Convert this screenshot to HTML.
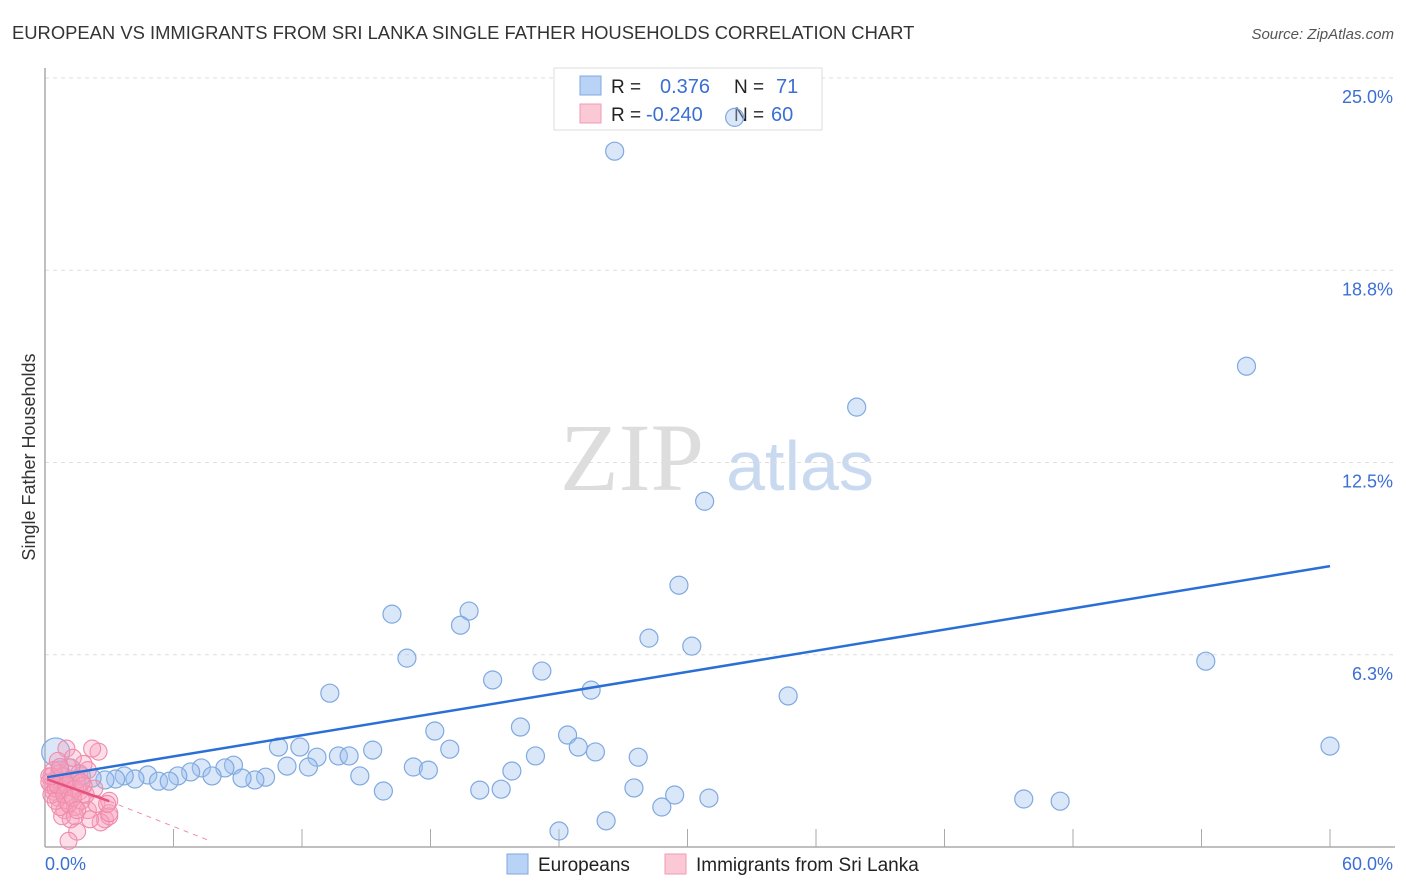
<!DOCTYPE html>
<html><head><meta charset="utf-8">
<style>
body{margin:0;background:#fff;font-family:"Liberation Sans",sans-serif;}
#wrap{position:relative;width:1406px;height:892px;overflow:hidden;}
</style></head>
<body>
<div id="wrap">
<svg id="svg" width="1406" height="892" xmlns="http://www.w3.org/2000/svg">
<text x="12" y="39" font-size="18.4" fill="#333">EUROPEAN VS IMMIGRANTS FROM SRI LANKA SINGLE FATHER HOUSEHOLDS CORRELATION CHART</text>
<text x="1394" y="39" font-size="15" fill="#555" font-style="italic" text-anchor="end">Source: ZipAtlas.com</text>
<text x="35" y="457" font-size="18" fill="#333" text-anchor="middle" transform="rotate(-90 35 457)">Single Father Households</text>
<text x="632" y="490" font-size="96" fill="#ddd" font-family="Liberation Serif,serif" text-anchor="middle">ZIP</text>
<text x="800" y="490" font-size="70" fill="#c9daf0" text-anchor="middle">atlas</text>
<g id="grid"></g>
<g>
<rect x="554" y="68" width="268" height="62" fill="#fff" stroke="#ddd"/>
<rect x="580" y="76" width="21" height="19" fill="#b8d3f5" stroke="#7fa9e0"/>
<rect x="580" y="104" width="21" height="19" fill="#fbc8d6" stroke="#f19ab3"/>
<text x="611" y="93" font-size="19" fill="#222">R = <tspan fill="#3b6fd4" x="660" font-size="20">0.376</tspan><tspan fill="#222" x="734">N = </tspan><tspan fill="#3b6fd4" x="776" font-size="20">71</tspan></text>
<text x="611" y="121" font-size="19" fill="#222">R = <tspan fill="#3b6fd4" x="646" font-size="20">-0.240</tspan><tspan fill="#222" x="734">N = </tspan><tspan fill="#3b6fd4" x="771" font-size="20">60</tspan></text>
</g>
<g id="pts"></g><g id="lines"></g>
<g>
<rect x="507" y="854" width="21" height="20" fill="#b8d3f5" stroke="#7fa9e0"/>
<text x="538" y="871" font-size="19" fill="#222">Europeans</text>
<rect x="665" y="854" width="21" height="20" fill="#fbc8d6" stroke="#f19ab3"/>
<text x="696" y="871" font-size="19" fill="#222">Immigrants from Sri Lanka</text>
</g>
</svg>
</div>
<script>
const yTicks=[6.25,12.5,18.75,25];
const yTickLabels=["6.3%","12.5%","18.8%","25.0%"];
const xTickVals=[6,12,18,24,30,36,42,48,54,60];
const europeans=[[32.2,23.72],[26.6,22.62],[56.1,15.63],[37.9,14.3],[30.8,11.24],[29.6,8.51],[16.2,7.57],[19.8,7.67],[19.4,7.21],[28.2,6.79],[30.2,6.53],[16.9,6.14],[54.2,6.04],[23.2,5.72],[20.9,5.43],[13.3,5.0],[25.5,5.1],[34.7,4.91],[18.2,3.77],[22.2,3.9],[24.4,3.64],[10.9,3.25],[11.9,3.25],[15.3,3.15],[24.9,3.25],[25.7,3.09],[18.9,3.18],[27.7,2.92],[60.0,3.28],[12.7,2.92],[13.7,2.96],[14.2,2.96],[22.9,2.96],[11.3,2.63],[12.3,2.6],[17.2,2.6],[17.9,2.5],[21.8,2.47],[14.7,2.31],[7.3,2.57],[8.8,2.66],[8.4,2.57],[6.8,2.44],[6.2,2.31],[10.3,2.27],[9.8,2.18],[9.2,2.24],[7.8,2.31],[4.8,2.34],[5.3,2.14],[5.8,2.14],[4.2,2.21],[3.7,2.31],[3.3,2.21],[2.8,2.18],[2.2,2.24],[1.7,2.31],[1.2,2.57],[0.5,3.09],[15.8,1.82],[20.3,1.85],[21.3,1.88],[27.5,1.92],[29.4,1.69],[31.0,1.59],[45.7,1.56],[47.4,1.49],[28.8,1.3],[24.0,0.52],[26.2,0.85],[0.7,2.5]];
const sriLanka=[[0.2,2.3],[0.3,2.0],[0.4,1.8],[0.5,2.2],[0.6,1.6],[0.7,2.4],[0.8,1.9],[0.9,2.1],[1.0,1.5],[1.1,2.6],[1.2,1.7],[1.3,2.0],[1.4,1.3],[1.5,2.2],[1.6,1.8],[1.0,3.2],[1.8,2.7],[2.5,3.1],[2.2,3.2],[1.3,2.9],[0.6,2.8],[0.9,1.2],[1.2,0.9],[1.5,0.5],[1.1,0.2],[0.8,1.0],[2.0,1.2],[2.4,1.4],[2.8,0.9],[3.0,1.0],[2.6,0.8],[3.0,1.1],[2.1,0.9],[1.7,1.5],[1.9,1.7],[2.3,1.9],[3.0,1.5],[1.4,1.0],[0.7,1.3],[0.4,2.5],[0.3,1.7],[0.2,2.1],[0.5,1.9],[0.6,2.0],[0.8,2.3],[1.0,2.0],[1.2,2.2],[1.4,1.9],[1.6,2.4],[1.8,2.0],[0.3,2.3],[0.5,1.5],[0.9,1.7],[1.1,1.4],[1.3,1.6],[2.0,2.5],[1.7,2.1],[0.7,2.6],[2.9,1.4],[1.5,1.2]];
const blueTrend=[[0.1,2.27],[60,9.13]];
const pinkTrend=[[0.1,2.2],[3.0,1.49]];
const pinkTrendExt=[[3.0,1.49],[7.7,0.2]];

const NS="http://www.w3.org/2000/svg";
const X=v=>45+v*(1330-45)/60, Y=v=>847-v*(847-78)/25;
function mk(tag,attrs,parent){const e=document.createElementNS(NS,tag);for(const k in attrs)e.setAttribute(k,attrs[k]);parent.appendChild(e);return e;}
const grid=document.getElementById('grid'),pts=document.getElementById('pts'),lines=document.getElementById('lines');
yTicks.forEach((t,i)=>{
 const l=mk('line',{x1:45,x2:1395,y1:Y(t),y2:Y(t),stroke:'#ddd','stroke-dasharray':'4,4'},grid);
 
 
 const tx=mk('text',{x:1393,y:Y(t)+25,'font-size':18,fill:'#3b6fd4','text-anchor':'end'},grid);
 tx.textContent=yTickLabels[i];
 
 
});
const ax=mk('line',{x1:45,x2:45,y1:68,y2:847,stroke:'#aaa','stroke-width':1.5},grid);


const bx=mk('line',{x1:45,x2:1395,y1:847,y2:847,stroke:'#aaa','stroke-width':1.5},grid);


xTickVals.forEach(t=>{const l=mk('line',{x1:X(t),x2:X(t),y1:829,y2:847,stroke:'#aaa'},grid);
 
 });
const x0=mk('text',{x:45,y:870,'font-size':18,fill:'#3b6fd4'},grid);x0.textContent='0.0%';


const x1=mk('text',{x:1393,y:870,'font-size':18,fill:'#3b6fd4','text-anchor':'end'},grid);x1.textContent='60.0%';


europeans.forEach((d,i)=>{const c=mk('circle',{cx:X(d[0]),cy:Y(d[1]),r:(i==58?14:9),fill:'rgba(160,196,240,0.4)',stroke:'#7fa9e0','stroke-width':1.2},pts);
 
 });
sriLanka.forEach(d=>{const c=mk('circle',{cx:X(d[0]),cy:Y(d[1]),r:8.5,fill:'rgba(246,160,188,0.35)',stroke:'#f08bab','stroke-width':1.1},pts);
 
 });
const bl=mk('line',{x1:X(blueTrend[0][0]),y1:Y(blueTrend[0][1]),x2:X(blueTrend[1][0]),y2:Y(blueTrend[1][1]),stroke:'#2a6fd6','stroke-width':2.5},lines);


const pl=mk('line',{x1:X(pinkTrend[0][0]),y1:Y(pinkTrend[0][1]),x2:X(pinkTrend[1][0]),y2:Y(pinkTrend[1][1]),stroke:'#e8517f','stroke-width':2.5},lines);


const pd=mk('line',{x1:X(pinkTrendExt[0][0]),y1:Y(pinkTrendExt[0][1]),x2:X(pinkTrendExt[1][0]),y2:Y(pinkTrendExt[1][1]),stroke:'#f08bab','stroke-width':1,'stroke-dasharray':'5,5'},lines);


</script>
</body></html>
